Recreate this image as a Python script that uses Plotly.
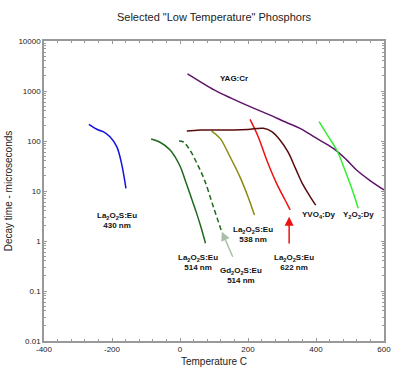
import plotly.graph_objects as go

# Data (Temperature C, decay time in microseconds)
la_430_t = [-268, -240, -226, -206, -186, -172, -159]
la_430_y = [216, 166, 154, 122, 77, 35.7, 11.3]

la_514_t = [-85, -60, -29, 0, 15, 30, 49, 62, 75]
la_514_y = [110, 95.5, 66, 31.6, 16.6, 8.5, 3.57, 1.86, 0.9]

gd_514_t = [-3, 10, 29, 50, 72, 98, 123]
gd_514_y = [100, 95.5, 66, 35.5, 16.6, 4.86, 1.51]

la_538_t = [93, 118, 147, 176, 200, 219]
la_538_y = [158, 113, 48.6, 19.4, 7.7, 3.3]

la_622_t = [206, 230, 255, 284, 309, 324]
la_622_y = [271, 122, 41.7, 14.2, 6.6, 4.2]

yvo4_t = [20, 59, 110, 157, 200, 245, 270, 294, 318, 340, 360, 380, 399]
yvo4_y = [158, 166, 166, 166, 170, 179, 154, 105, 60, 28, 14, 8.3, 5.2]

yag_t = [22, 59, 100, 150, 206, 260, 310, 353, 400, 451, 490, 520, 560, 600]
yag_y = [2190, 1537, 1050, 720, 486, 340, 240, 179, 115, 71, 42, 26, 16, 10.5]

y2o3_t = [409, 435, 461, 486, 510, 524]
y2o3_y = [244, 126, 66, 25, 9, 4.5]

x_tick_vals = [-400, -200, 0, 200, 400, 600]
x_tick_text = ["-400", "-200", "0", "200", "400", "600"]
y_tick_vals = [0.01, 0.1, 1, 10, 100, 1000, 10000]
y_tick_text = ["0.01", "0.1", "1", "10", "100", "1000", "10000"]

series = [
    (la_430_t, la_430_y, "#1010e0", "solid"),
    (la_514_t, la_514_y, "#1d6a1d", "solid"),
    (gd_514_t, gd_514_y, "#1d6a1d", "5px,3px"),
    (la_538_t, la_538_y, "#8a8a10", "solid"),
    (la_622_t, la_622_y, "#ee1111", "solid"),
    (yvo4_t, yvo4_y, "#5a0a0a", "solid"),
    (yag_t, yag_y, "#5e1468", "solid"),
    (y2o3_t, y2o3_y, "#33ee33", "solid"),
]

fig = go.Figure()
for t, y, color, dash in series:
    fig.add_trace(go.Scatter(x=t, y=y, mode="lines",
                             line=dict(color=color, width=1.5, dash=dash, shape="spline", smoothing=1),
                             showlegend=False, hoverinfo="skip"))

lab_font = dict(family="Liberation Sans, Arial", size=8, color="#111")
labels = [
    (-186, 0.41, "La<sub>2</sub>O<sub>2</sub>S:Eu<br>430 nm"),
    (54, -0.42, "La<sub>2</sub>O<sub>2</sub>S:Eu<br>514 nm"),
    (178, -0.69, "Gd<sub>2</sub>O<sub>2</sub>S:Eu<br>514 nm"),
    (215, 0.126, "La<sub>2</sub>O<sub>2</sub>S:Eu<br>538 nm"),
    (336, -0.42, "La<sub>2</sub>O<sub>2</sub>S:Eu<br>622 nm"),
    (407, 0.52, "YVO<sub>4</sub>:Dy"),
    (524, 0.52, "Y<sub>2</sub>O<sub>3</sub>:Dy"),
    (160, 3.254, "YAG:Cr"),
]
for x, y, txt in labels:
    fig.add_annotation(x=x, y=y, xref="x", yref="y", text="<b>" + txt + "</b>", showarrow=False,
                       font=lab_font, align="center")

# arrows
fig.add_annotation(x=123, y=0.187, ax=157, ay=-0.346, xref="x", yref="y", axref="x", ayref="y",
                   text="", showarrow=True, arrowhead=2, arrowsize=1.2, arrowwidth=1.5, arrowcolor="#a8c0a8")
fig.add_annotation(x=321, y=0.486, ax=321, ay=-0.08, xref="x", yref="y", axref="x", ayref="y",
                   text="", showarrow=True, arrowhead=2, arrowsize=1.2, arrowwidth=1.5, arrowcolor="#ee1111")

axis_common = dict(showline=True, linecolor="#999", linewidth=1.5, mirror="ticks", showgrid=False, zeroline=False,
                   ticks="inside", ticklen=3, tickcolor="#999", automargin=False,
                   tickfont=dict(family="Liberation Sans, Arial", size=8, color="#222"))

fig.update_xaxes(range=[-400, 600], tickvals=x_tick_vals, ticktext=x_tick_text,
                 minor=dict(ticks="inside", ticklen=2, tickcolor="#999", dtick=40, tick0=-400),
                 title=dict(text="Temperature C", font=dict(family="Liberation Sans, Arial", size=10, color="#222"), standoff=5),
                 **axis_common)
fig.update_yaxes(type="log", range=[-2, 4], tickvals=y_tick_vals, ticktext=y_tick_text,
                 minor=dict(ticks="inside", ticklen=2, tickcolor="#999", dtick="D1"),
                 title=dict(text="Decay time - microseconds", font=dict(family="Liberation Sans, Arial", size=10, color="#222"), standoff=4),
                 **axis_common)

fig.update_layout(
    width=400, height=372,
    margin=dict(l=44, r=16, t=41, b=31),
    paper_bgcolor="white", plot_bgcolor="white",
    title=dict(text='Selected "Low Temperature" Phosphors', x=0.535, xanchor="center", y=0.955, yanchor="middle",
               font=dict(family="Liberation Sans, Arial", size=11, color="#222")),
)

fig.write_html("out.html", config={"displayModeBar": False},
               post_script="document.body.style.margin='0px';")
